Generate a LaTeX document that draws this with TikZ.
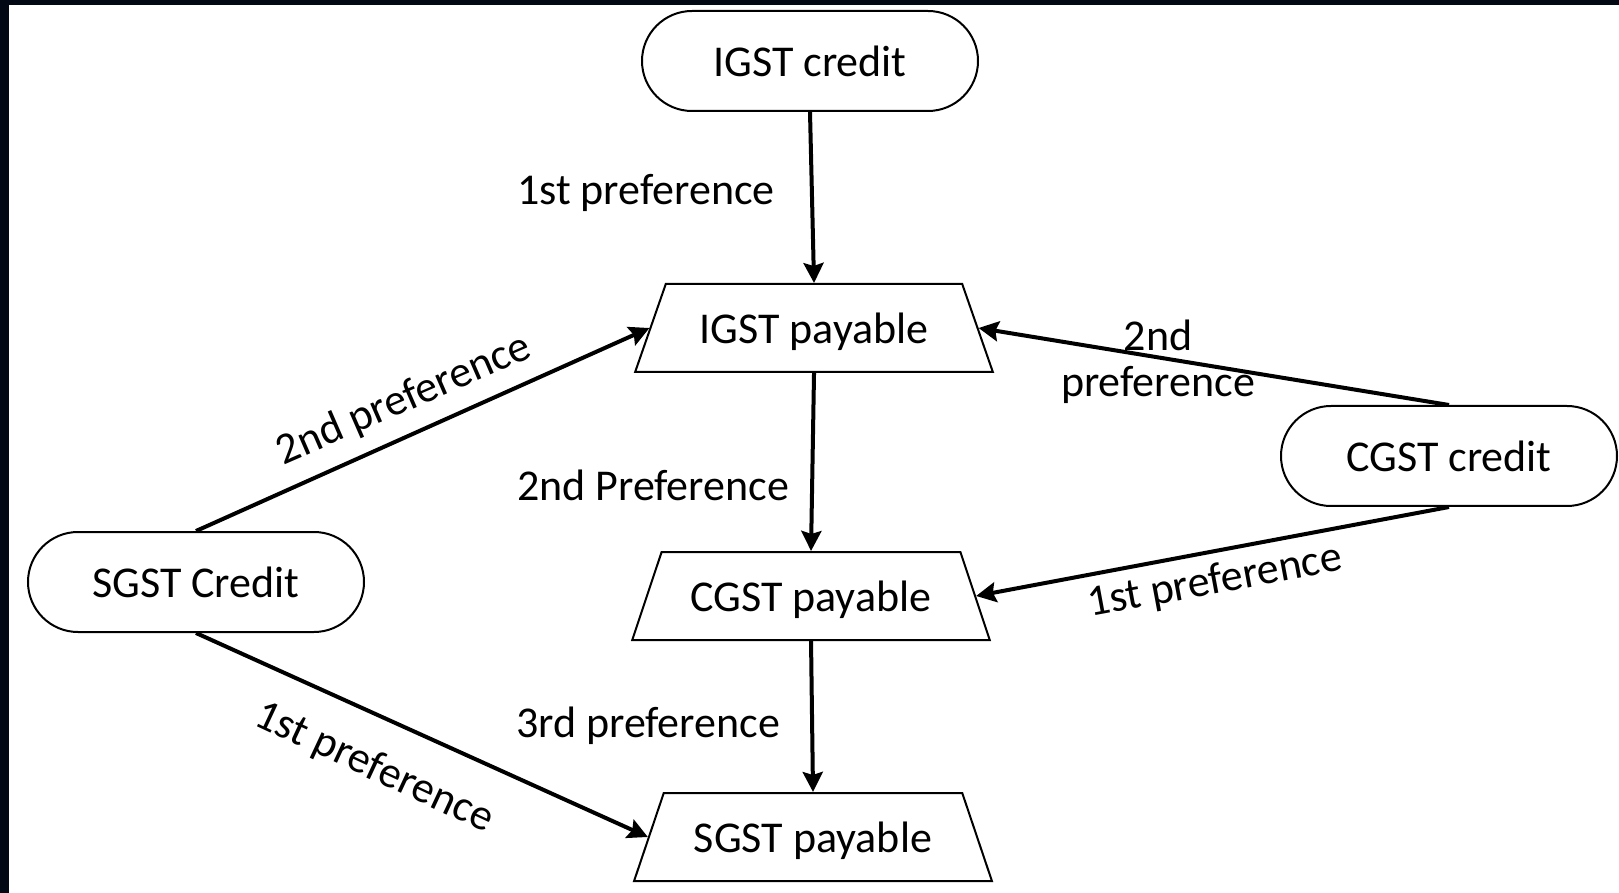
\documentclass[tikz,border=0pt]{standalone}
\usepackage{fontspec}
\setmainfont{Carlito}
\usetikzlibrary{shapes.geometric,arrows.meta}
\definecolor{framedark}{HTML}{020814}
\begin{document}
\begin{tikzpicture}[x=0.5pt,y=-0.5pt,
  every node/.style={font=\fontsize{22}{27}\selectfont},
  credit/.style={draw, line width=1pt, rounded corners=25pt,
    minimum width=168pt, minimum height=50pt, inner sep=0pt},
  payable/.style={draw, line width=1pt, trapezium, trapezium stretches=true,
    trapezium angle=60, minimum width=179pt, minimum height=44pt, inner sep=0pt,
    text height=18pt, text depth=2.5pt},
  flow/.style={line width=2pt, -{Stealth[length=10pt,width=10pt,inset=1.5pt]}},
  lbl/.style={inner sep=1pt}]
  % page area and dark frame strips
  \useasboundingbox (0,0) rectangle (1619,893);
  \fill[white] (0,0) rectangle (1619,893);
  \fill[framedark] (0,0) rectangle (1619,5);
  \fill[framedark] (0,0) rectangle (9,893);

  % credit sources
  \node[credit] (igc) at (810,61) {IGST credit};
  \node[credit] (sgc) at (196,582) {SGST Credit};
  \node[credit] (cgc) at (1449,456) {CGST credit};

  % payable liabilities
  \node[payable] (igp) at (814,328) {IGST payable};
  \node[payable] (cgp) at (811,596) {CGST payable};
  \node[payable] (sgp) at (813,837) {SGST payable};

  % set-off order
  \draw[flow] (igc.south) -- (igp.north);
  \draw[flow] (igp.south) -- (cgp.north);
  \draw[flow] (cgp.south) -- (sgp.north);
  \draw[flow] (sgc.north) -- (igp.west);
  \draw[flow] (sgc.south) -- (sgp.west);
  \draw[flow] (cgc.north) -- (igp.east);
  \draw[flow] (cgc.south) -- (cgp.east);

  % labels
  \node[lbl] (l1) at (646,193) {1st preference};
  \node[lbl] (l2) at (653,485) {2nd Preference};
  \node[lbl] (l3) at (648,726) {3rd preference};
  \node[lbl, rotate=23.5] (l4) at (404,400) {2nd preference};
  \node[lbl, rotate=-25] (l5) at (374,768) {1st preference};
  \node[lbl, align=center] (l6) at (1158,362) {2nd\\[-4pt]preference};
  \node[lbl, rotate=10.5] (l7) at (1215,582) {1st preference};
\end{tikzpicture}
\end{document}
